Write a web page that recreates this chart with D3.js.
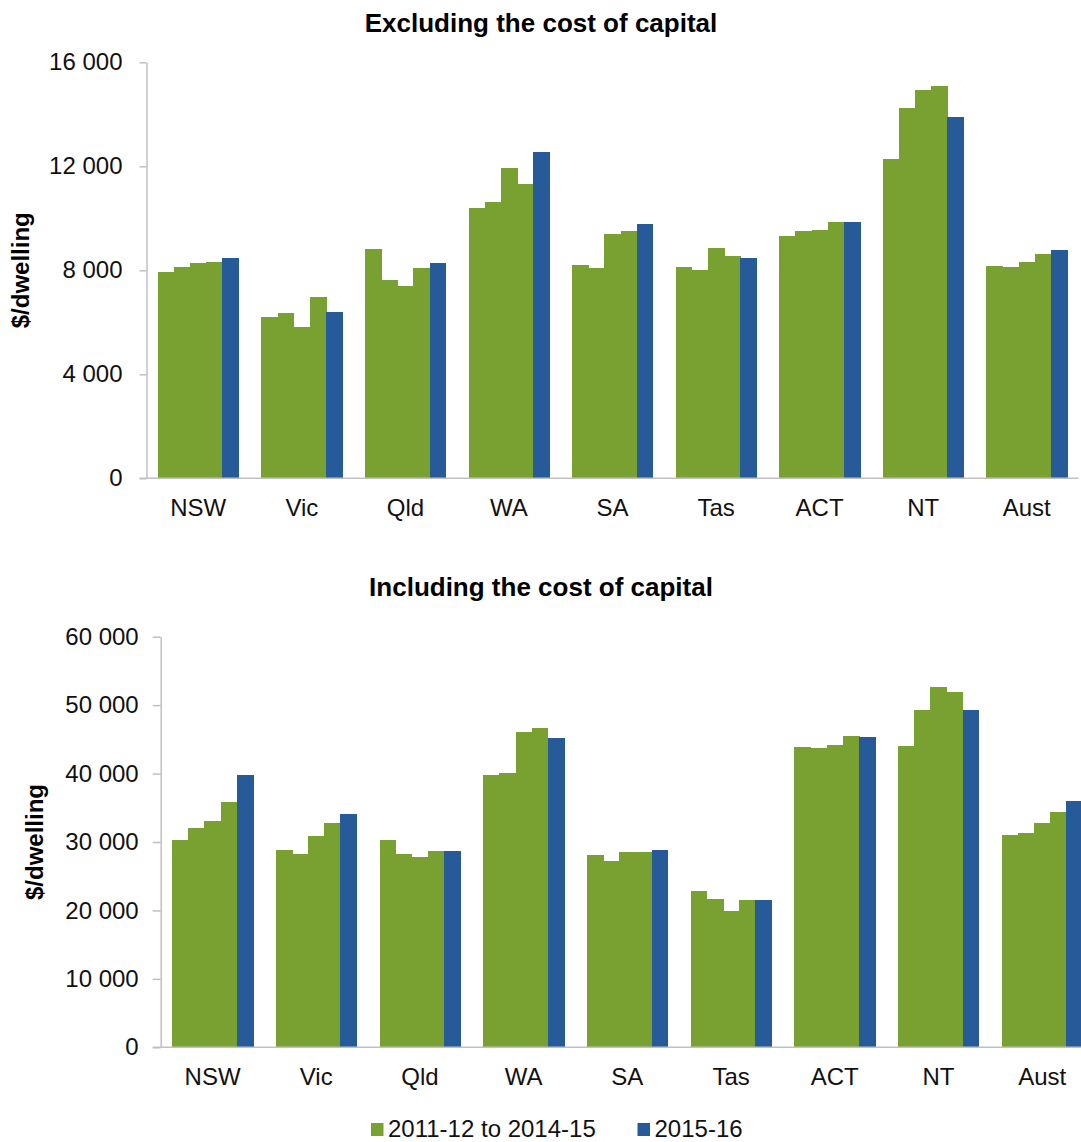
<!DOCTYPE html>
<html>
<head>
<meta charset="utf-8">
<script src="https://cdn.jsdelivr.net/npm/d3@7"></script>
<style>
  html, body { margin: 0; padding: 0; background: #fff; }
  svg { display: block; font-family: "Liberation Sans", Arial, sans-serif; }
</style>
</head>
<body>
<svg id="chart" width="1081" height="1142"></svg>
<script>
// States and territories, plus the national figure
const categories = ["NSW", "Vic", "Qld", "WA", "SA", "Tas", "ACT", "NT", "Aust"];
const years = ["2011-12", "2012-13", "2013-14", "2014-15", "2015-16"];

// Cost per dwelling, excluding the cost of capital ($)
const excl_2011_12 = [7920, 6200, 8810, 10390, 8220, 8130, 9310, 12270, 8170];
const excl_2012_13 = [8120, 6350, 7640, 10640, 8080, 8020, 9500, 14230, 8130];
const excl_2013_14 = [8270, 5810, 7390, 11920, 9410, 8870, 9560, 14920, 8330];
const excl_2014_15 = [8320, 6990, 8080, 11330, 9500, 8560, 9850, 15080, 8630];
const excl_2015_16 = [8460, 6400, 8270, 12560, 9790, 8460, 9850, 13890, 8770];

// Cost per dwelling, including the cost of capital ($)
const incl_2011_12 = [30340, 28880, 30340, 39750, 28100, 22840, 43840, 44030, 31070];
const incl_2012_13 = [32050, 28290, 28290, 40130, 27180, 21720, 43690, 49290, 31320];
const incl_2013_14 = [33030, 30920, 27770, 46120, 28500, 19870, 44220, 52650, 32820];
const incl_2014_15 = [35800, 32820, 28690, 46710, 28500, 21530, 45540, 51920, 34430];
const incl_2015_16 = [39750, 34140, 28690, 45200, 28880, 21530, 45350, 49290, 35990];

const yTicksExcl = [0, 4000, 8000, 12000, 16000];
const yTicksIncl = [0, 10000, 20000, 30000, 40000, 50000, 60000];

const legendLabels = ["2011-12 to 2014-15", "2015-16"];

const GREEN = "#79a132";
const BLUE = "#265a99";
const AXIS = "#c0c0c0";
const colorFor = yr => (yr === "2015-16" ? BLUE : GREEN);

const fmt = d3.formatLocale({ decimal: ".", thousands: " ", grouping: [3], currency: ["$", ""] }).format(",");

const svg = d3.select("#chart");

function panel(opts) {
  const { series, title, titleY, left, right, bottom, top, maxY, ticks,
          tickLen, tickPad, axisLeftStart, ylabelX, catOffset } = opts;

  const x0 = d3.scaleBand().domain(categories).range([left, right]).paddingInner(0).paddingOuter(0);
  const inset = x0.bandwidth() * 0.1105;
  const x1 = d3.scaleBand().domain(years).range([inset, x0.bandwidth() - inset]).padding(0);
  const y = d3.scaleLinear().domain([0, maxY]).range([bottom, top]);

  const g = svg.append("g");

  // title
  g.append("text")
    .attr("x", 541).attr("y", titleY)
    .attr("text-anchor", "middle")
    .attr("font-size", 26).attr("font-weight", "bold").attr("fill", "#000")
    .text(title);

  // y axis title
  g.append("text")
    .attr("transform", `translate(${ylabelX},${(top + bottom) / 2}) rotate(-90)`)
    .attr("text-anchor", "middle")
    .attr("font-size", 24).attr("font-weight", "bold").attr("fill", "#000")
    .text("$/dwelling");

  // bars
  const rows = categories.map((c, i) => ({ cat: c, vals: years.map((yr, k) => ({ yr, v: series[k][i] })) }));
  const grp = g.append("g").selectAll("g").data(rows).join("g")
    .attr("transform", d => `translate(${x0(d.cat)},0)`);
  grp.selectAll("rect").data(d => d.vals).join("rect")
    .attr("x", d => x1(d.yr))
    .attr("width", x1.bandwidth() + 0.6)
    .attr("y", d => y(d.v))
    .attr("height", d => y(0) - y(d.v))
    .attr("fill", d => colorFor(d.yr))
    .attr("shape-rendering", "crispEdges");

  // y axis
  const ya = g.append("g")
    .attr("transform", `translate(${left},0)`)
    .call(d3.axisLeft(y).tickValues(ticks).tickFormat(fmt).tickSizeInner(tickLen).tickSizeOuter(0).tickPadding(tickPad));
  ya.select(".domain").attr("stroke", AXIS).attr("stroke-width", 1.5);
  ya.selectAll(".tick line").attr("stroke", AXIS).attr("stroke-width", 1.5);
  ya.selectAll(".tick text").attr("font-size", 24).attr("fill", "#111")
    .attr("font-family", "Liberation Sans, Arial, sans-serif");

  // baseline
  g.append("line")
    .attr("x1", axisLeftStart).attr("x2", Math.min(right, 1081))
    .attr("y1", y(0)).attr("y2", y(0))
    .attr("stroke", AXIS).attr("stroke-width", 1.5);

  // category labels
  const xa = g.append("g")
    .attr("transform", `translate(0,${y(0)})`)
    .call(d3.axisBottom(x0).tickSize(0).tickPadding(catOffset));
  xa.select(".domain").remove();
  xa.selectAll(".tick text").attr("font-size", 24).attr("fill", "#111")
    .attr("font-family", "Liberation Sans, Arial, sans-serif");
}

panel({
  series: [excl_2011_12, excl_2012_13, excl_2013_14, excl_2014_15, excl_2015_16],
  title: "Excluding the cost of capital", titleY: 32,
  left: 146.5, right: 1078.5, bottom: 478.3, top: 62.3, maxY: 16000, ticks: yTicksExcl,
  tickLen: 7, tickPad: 17, axisLeftStart: 139.5, ylabelX: 29, catOffset: 21
});

panel({
  series: [incl_2011_12, incl_2012_13, incl_2013_14, incl_2014_15, incl_2015_16],
  title: "Including the cost of capital", titleY: 596,
  left: 160.7, right: 1094, bottom: 1047.3, top: 636.7, maxY: 60000, ticks: yTicksIncl,
  tickLen: 8, tickPad: 14, axisLeftStart: 152.7, ylabelX: 43, catOffset: 21
});

// legend
const legend = svg.append("g");
const legendItems = [
  { label: legendLabels[0], color: GREEN, sx: 371, tx: 388 },
  { label: legendLabels[1], color: BLUE, sx: 637.5, tx: 654.5 }
];
legendItems.forEach(it => {
  legend.append("rect").attr("x", it.sx).attr("y", 1123).attr("width", 12.5).attr("height", 13).attr("fill", it.color);
  legend.append("text").attr("x", it.tx).attr("y", 1137)
    .attr("font-size", 24).attr("fill", "#111").text(it.label);
});
</script>
</body>
</html>
